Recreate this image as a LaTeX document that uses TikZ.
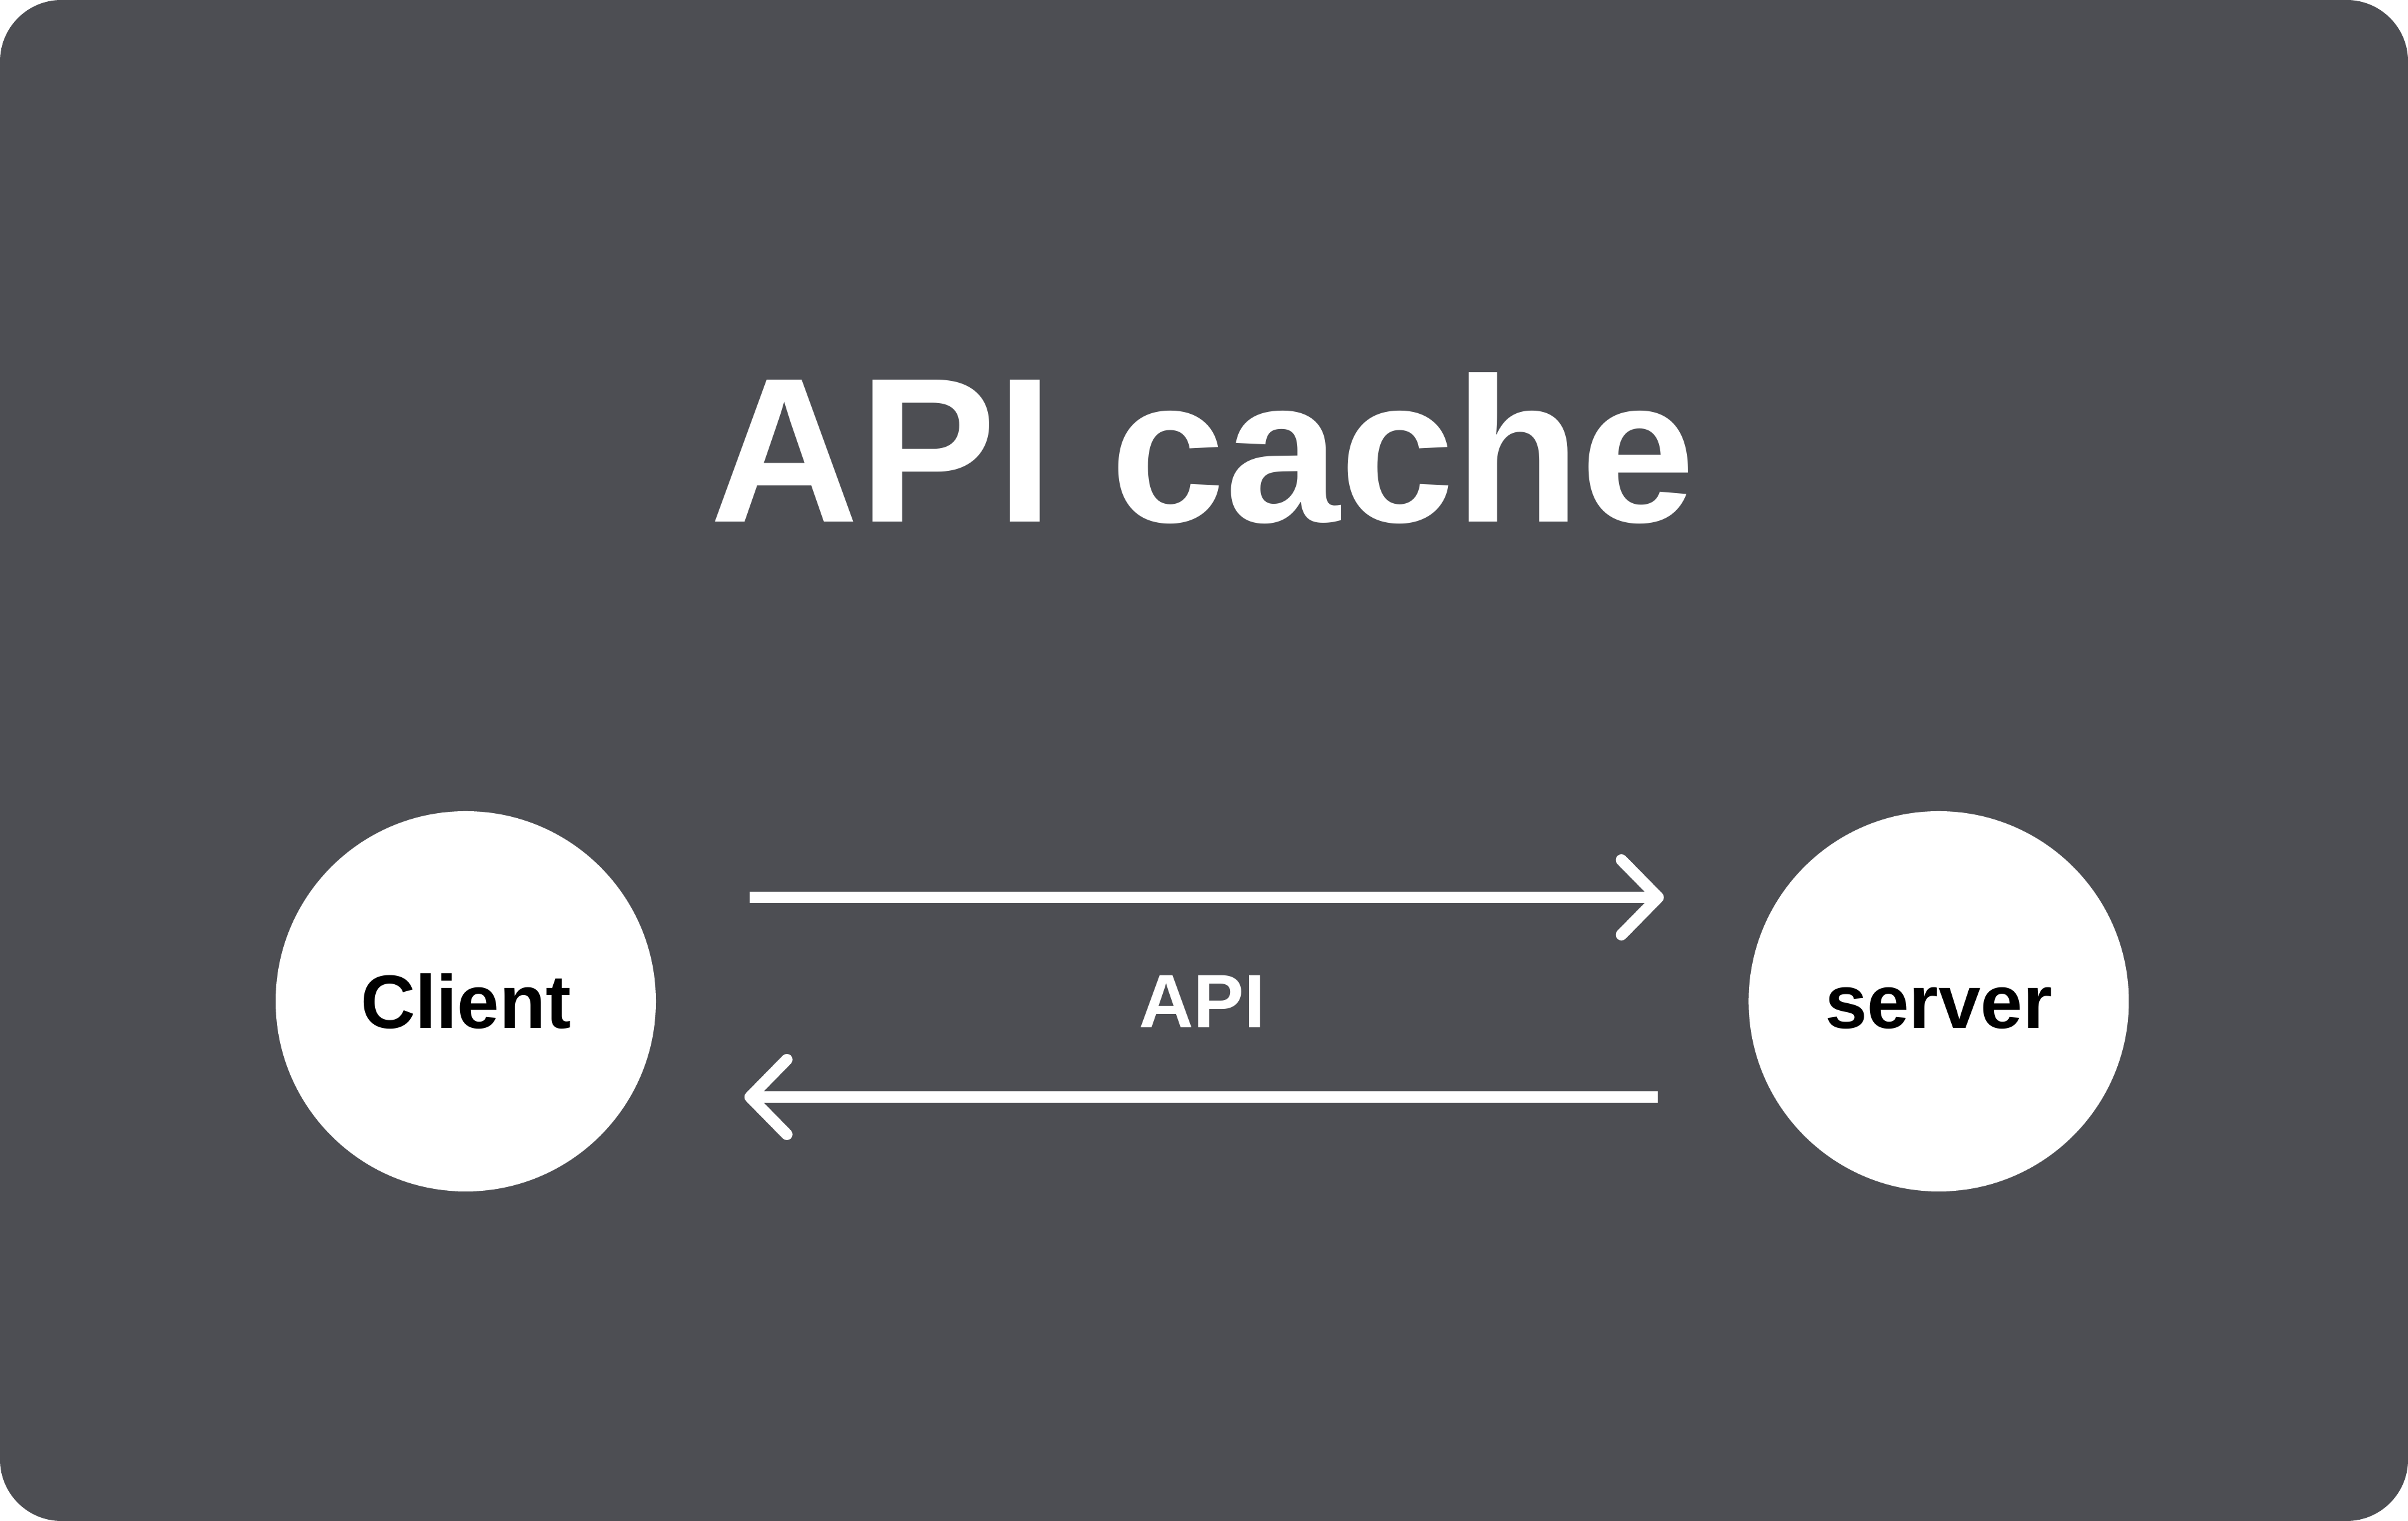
\documentclass[tikz,border=0pt]{standalone}
\usepackage{fontspec}
\setmainfont{Liberation Sans}
\usetikzlibrary{positioning,calc,arrows.meta}
\definecolor{slate}{RGB}{77,78,83}

\begin{document}
\begin{tikzpicture}[>={Straight Barb[round,length=0.58cm,width=1.18cm]},node distance=17.23cm,
    bubble/.style={circle,fill=white,minimum size=6cm,inner sep=0pt,text=black,font=\fontsize{34}{40}\selectfont\bfseries,text height=0.86cm,text depth=0pt},
    flow/.style={->,white,line width=0.18cm}]

        \fill[slate, rounded corners=0.97cm] (0,0) rectangle (38,24);

        \node[text=white, anchor=base, font=\fontsize{92.6}{110}\selectfont\bfseries] (title) at (18.98,15.76) {API cache};

        \node[bubble] (client) at (7.35,8.2) {Client};
        \node[bubble] (server) [right=of client] {server};
        \node[text=white, font=\fontsize{34}{40}\selectfont\bfseries] (api) at ($(client)!0.5!(server)$) {API};

        \draw[flow] ([shift={(1.47,1.64)}]client.east) -- ([shift={(-1.33,1.64)}]server.west);
        \draw[flow] ([shift={(-1.43,-1.51)}]server.west) -- ([shift={(1.39,-1.51)}]client.east);

\end{tikzpicture}
\end{document}
